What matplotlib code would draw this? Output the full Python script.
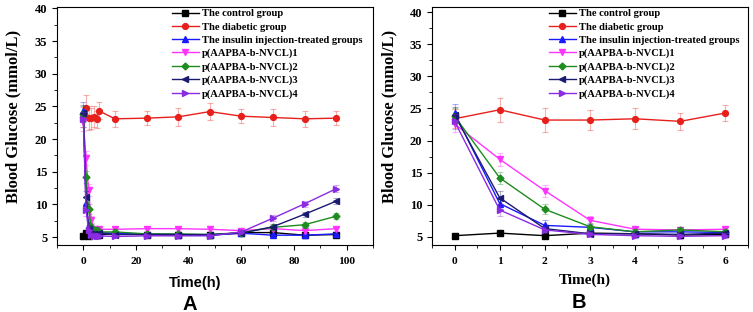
import numpy as np
import matplotlib
matplotlib.use("Agg")
import matplotlib.pyplot as plt
from matplotlib.ticker import MultipleLocator

# time points (h)
t = [0, 1, 2, 3, 4, 5, 6, 12, 24, 36, 48, 60, 72, 84, 96]

labels = ["The control group", "The diabetic group",
          "The insulin injection-treated groups",
          "p(AAPBA-b-NVCL)1", "p(AAPBA-b-NVCL)2",
          "p(AAPBA-b-NVCL)3", "p(AAPBA-b-NVCL)4"]

control = [5.2, 5.6, 5.2, 5.6, 5.5, 5.3, 5.4, 5.5, 5.4, 5.3, 5.3, 5.7, 5.7, 5.3, 5.4]
diabetic = [23.4, 24.8, 23.2, 23.2, 23.4, 23.0, 24.3, 23.1, 23.2, 23.4, 24.2, 23.5, 23.3, 23.1, 23.2]
insulin = [24.3, 10.2, 6.8, 6.5, 5.8, 5.8, 5.7, 5.6, 5.5, 5.4, 5.3, 5.6, 5.3, 5.3, 5.5]
p1 = [22.6, 17.1, 12.2, 7.6, 6.2, 6.1, 6.2, 6.2, 6.3, 6.3, 6.2, 6.0, 6.3, 6.0, 6.3]
p2 = [23.8, 14.2, 9.3, 6.6, 5.8, 6.1, 5.8, 5.8, 5.5, 5.5, 5.4, 5.7, 6.5, 6.9, 8.2]
p3 = [24.0, 11.1, 6.3, 5.5, 5.5, 5.4, 5.6, 5.4, 5.4, 5.4, 5.4, 5.6, 6.6, 8.5, 10.5]
p4 = [23.0, 9.2, 6.1, 5.4, 5.2, 5.1, 5.2, 5.1, 5.2, 5.2, 5.2, 5.8, 7.9, 10.1, 12.4]

control_err = [0.2, 0.2, 0.2, 0.2, 0.2, 0.2, 0.2, 0.2, 0.2, 0.2, 0.2, 0.2, 0.2, 0.2, 0.2]
diabetic_err = [1.5, 1.9, 1.8, 1.6, 1.6, 1.3, 1.3, 1.2, 1.1, 1.4, 1.3, 1.1, 1.3, 1.2, 1.1]
insulin_err = [1.4, 0.9, 0.8, 0.5, 0.4, 0.4, 0.4, 0.4, 0.3, 0.3, 0.3, 0.3, 0.3, 0.3, 0.3]
p1_err = [1.3, 1.0, 0.9, 0.6, 0.4, 0.4, 0.4, 0.4, 0.3, 0.3, 0.3, 0.3, 0.3, 0.3, 0.3]
p2_err = [1.2, 0.9, 0.8, 0.5, 0.4, 0.4, 0.4, 0.4, 0.3, 0.3, 0.3, 0.3, 0.4, 0.4, 0.5]
p3_err = [1.2, 1.0, 0.6, 0.4, 0.4, 0.4, 0.4, 0.3, 0.3, 0.3, 0.3, 0.3, 0.4, 0.4, 0.5]
p4_err = [1.2, 0.9, 0.5, 0.4, 0.4, 0.4, 0.4, 0.3, 0.3, 0.3, 0.3, 0.3, 0.5, 0.5, 0.5]

series = [control, diabetic, insulin, p1, p2, p3, p4]
errs = [control_err, diabetic_err, insulin_err, p1_err, p2_err, p3_err, p4_err]
colors = ["#000000", "#e8201c", "#1a1aff", "#ff33ff", "#1e8c1e", "#1a1a70", "#8a2be2"]
markers = ["s", "o", "^", "v", "D", "<", ">"]

serif = "Liberation Serif"
fig = plt.figure(figsize=(7.53, 3.12), dpi=100)
W, H = 753, 312


def panel(left, xs, xlim, xmajor, xminor, ylim, nshow, leg_x, ylab_x):
    ax = fig.add_axes([left / W, (H - 245) / H, 316 / W, 238 / H])
    for y, e, c, m, lab in zip(series, errs, colors, markers, labels):
        # error bars drawn separately so the legend shows line + marker only
        ax.errorbar(xs[:nshow], y[:nshow], yerr=e[:nshow], fmt="none",
                    ecolor=matplotlib.colors.to_rgba(c, 0.35), elinewidth=0.8,
                    capsize=2, capthick=0.8)
        ax.plot(xs[:nshow], y[:nshow], color=c, marker=m,
                markersize=4.2 if m != "D" else 3.5, lw=1, label=lab)
    ax.set_xlim(*xlim)
    ax.set_ylim(*ylim)
    ax.set_yticks([5, 10, 15, 20, 25, 30, 35, 40])
    ax.xaxis.set_major_locator(MultipleLocator(xmajor))
    ax.xaxis.set_minor_locator(MultipleLocator(xminor))
    ax.yaxis.set_minor_locator(MultipleLocator(2.5))
    ax.tick_params(which="major", direction="out", length=3.5, width=0.8)
    ax.tick_params(which="minor", direction="out", length=2, width=0.6)
    ax.tick_params(top=False, right=False, which="both")
    ax.tick_params(axis="x", pad=5)
    for lbl in ax.get_xticklabels():
        lbl.set_fontfamily(serif)
        lbl.set_fontweight("bold")
        lbl.set_fontsize(8.2)
    for lbl in ax.get_yticklabels():
        lbl.set_fontfamily(serif)
        lbl.set_fontweight("bold")
        lbl.set_fontsize(9)
    for sp in ax.spines.values():
        sp.set_linewidth(0.8)
    ax.set_ylabel("Blood Glucose (mmol/L)", fontfamily=serif, fontweight="bold",
                  fontsize=12, va="center")
    ax.yaxis.set_label_coords(ylab_x, 0.54)
    ax.legend(loc="upper left", bbox_to_anchor=(leg_x, 1.0), frameon=False,
              prop={"family": serif, "weight": "bold", "size": 7.6},
              handlelength=2.5, handletextpad=0.3, labelspacing=0.36,
              borderpad=0.2, borderaxespad=0)
    return ax


axA = panel(57, t, (-10, 110), 20, 10, (3.8, 40.2), len(t), 0.358, -0.139)
axB = panel(432, t, (-0.5, 6.5), 1, 0.5, (3.75, 40.8), 7, 0.364, -0.135)

axA.set_xlabel("Time(h)", fontfamily="Liberation Sans", fontweight="bold",
               fontsize=10.5, va="center")
axA.xaxis.set_label_coords(0.437, (245 - 283) / 238)
axB.set_xlabel("Time(h)", fontfamily=serif, fontweight="bold", fontsize=11,
               va="center")
axB.xaxis.set_label_coords((585 - 432) / 316, (245 - 280) / 238)

fig.text(190 / W, 1 - 304 / H, "A", ha="center", va="center",
         fontfamily="Liberation Sans", fontweight="bold", fontsize=14.5)
fig.text(579 / W, 1 - 303 / H, "B", ha="center", va="center",
         fontfamily="Liberation Sans", fontweight="bold", fontsize=14.5)

fig.savefig("out.png", dpi=100)
